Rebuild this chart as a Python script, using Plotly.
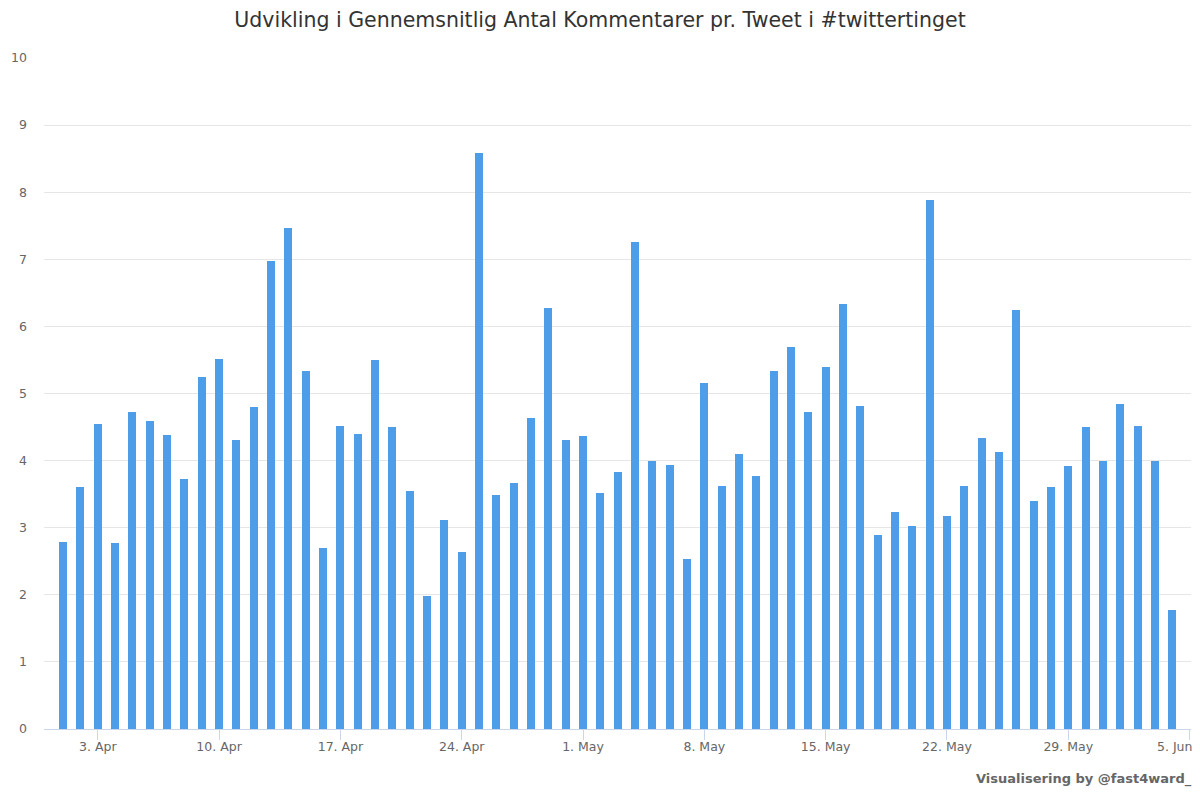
import plotly.graph_objects as go
import pandas as pd

dates = pd.date_range("2017-04-01", "2017-06-04", freq="D")
values = [
    2.78, 3.61, 4.54, 2.77, 4.72, 4.59, 4.38, 3.73, 5.24, 5.51,
    4.31, 4.80, 6.98, 7.47, 5.34, 2.70, 4.52, 4.40, 5.50, 4.50,
    3.54, 1.98, 3.11, 2.64, 8.59, 3.48, 3.66, 4.63, 6.28, 4.30,
    4.36, 3.52, 3.83, 7.26, 4.00, 3.93, 2.53, 5.16, 3.62, 4.10,
    3.77, 5.34, 5.70, 4.72, 5.40, 6.33, 4.81, 2.89, 3.24, 3.03,
    7.88, 3.17, 3.62, 4.34, 4.13, 6.24, 3.40, 3.60, 3.92, 4.50,
    3.99, 4.84, 4.52, 3.99, 1.78,
]
tick_dates = ["2017-04-03", "2017-04-10", "2017-04-17", "2017-04-24", "2017-05-01",
              "2017-05-08", "2017-05-15", "2017-05-22", "2017-05-29", "2017-06-05"]
tick_labels = ["3. Apr", "10. Apr", "17. Apr", "24. Apr", "1. May",
               "8. May", "15. May", "22. May", "29. May", "5. Jun"]
title_text = "Udvikling i Gennemsnitlig Antal Kommentarer pr. Tweet i #twittertinget"
credit_text = "Visualisering by @fast4ward_"

font_family = "DejaVu Sans, Verdana, sans-serif"

fig = go.Figure()
fig.add_trace(go.Bar(
    x=dates, y=values,
    marker=dict(color="#4d9de8", line=dict(width=0)),
    width=0.46 * 86400000,
))

fig.update_layout(
    width=1200, height=799,
    paper_bgcolor="white", plot_bgcolor="white",
    margin=dict(l=44, r=9, t=58, b=70),
    font=dict(family=font_family, color="#666666"),
    title=dict(text=title_text, x=0.5, xanchor="center", y=1 - 20/799, yanchor="middle",
               font=dict(size=20.5, color="#333333", family=font_family)),
    showlegend=False,
    bargap=0,
)
# last label is drawn shifted inward (as in the original), so it is left blank on the axis
fig.update_xaxes(
    type="date",
    range=["2017-03-30T21:30:00", "2017-06-05T02:00:00"],
    tickvals=tick_dates, ticktext=tick_labels[:-1] + [""],
    ticks="outside", ticklen=10, tickcolor="#ccd6eb", tickwidth=1,
    ticklabelstandoff=-4,
    showline=True, linecolor="#ccd6eb", linewidth=1,
    showgrid=False, zeroline=False,
    tickfont=dict(size=12.5, color="#666666"),
)
fig.update_yaxes(
    range=[0, 10], dtick=1,
    showgrid=True, gridcolor="#e6e6e6", gridwidth=1,
    zeroline=False, showline=False,
    ticks="", ticklabelstandoff=16,
    tickfont=dict(size=12.5, color="#666666"),
)
fig.add_annotation(
    text=tick_labels[-1],
    xref="x", yref="paper", x=tick_dates[-1], y=-17/671,
    xanchor="right", yanchor="middle", xshift=4,
    showarrow=False, font=dict(size=12.5, color="#666666", family=font_family),
)
fig.add_annotation(
    text="<b>" + credit_text + "</b>",
    xref="paper", yref="paper", x=1, y=-50/671,
    xanchor="right", yanchor="middle", xshift=3,
    showarrow=False, font=dict(size=13, color="#666666", family=font_family),
)

fig.write_html("out.html", config={"displayModeBar": False},
               post_script="document.body.style.margin='0';")
